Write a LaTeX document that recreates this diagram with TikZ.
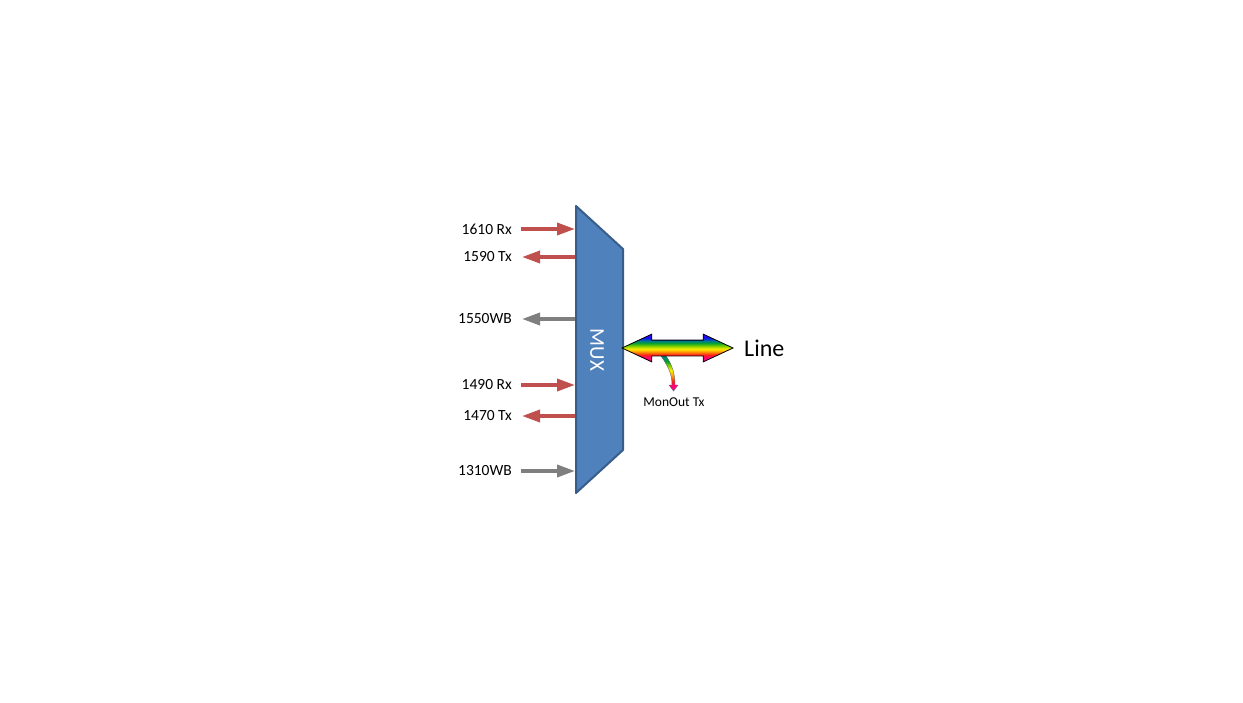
\documentclass[tikz,border=0pt]{standalone}
\usepackage{fontspec}
\setmainfont{Carlito}
\usetikzlibrary{arrows.meta}
\usetikzlibrary{shapes.arrows}
\definecolor{muxfill}{HTML}{4F81BD}
\definecolor{muxline}{HTML}{385D8A}
\definecolor{portred}{HTML}{C0504D}
\definecolor{portgray}{HTML}{7F7F7F}
\definecolor{rbmag}{HTML}{FF0080}
\definecolor{rbred}{HTML}{FF1A1A}
\definecolor{rbora}{HTML}{FF8C00}
\definecolor{rbyel}{HTML}{FFF000}
\definecolor{rblime}{HTML}{80D000}
\definecolor{rbgrn}{HTML}{00A030}
\definecolor{rbteal}{HTML}{007F8F}
\definecolor{rbblue}{HTML}{1010F0}
\definecolor{rbvio}{HTML}{5000FF}
%rainbow for the line arrow, 28bp high
\pgfdeclareverticalshading{rainbow}{120bp}{color(0bp)=(rbmag); color(4bp)=(rbmag); color(7bp)=(rbred); color(10bp)=(rbora); color(13bp)=(rbyel); color(16bp)=(rblime); color(19bp)=(rbgrn); color(21bp)=(rbteal); color(24bp)=(rbblue); color(28bp)=(rbvio)}
%rainbow for the monitor tap, 36bp high
\pgfdeclareverticalshading{monshade}{24bp}{color(0bp)=(rbmag); color(6bp)=(rbmag); color(10bp)=(rbred); color(15bp)=(rbora); color(21bp)=(rbyel); color(26bp)=(rblime); color(30bp)=(rbgrn); color(36bp)=(rbteal)}
\tikzset{port/.style={line width=3.5pt, draw=#1, -{Triangle[length=18pt,width=12pt]}},
%labels left of the mux
portlabel/.style={anchor=east, inner sep=0pt, font=\fontsize{15.5}{18}\selectfont},
muxbox/.style={fill=muxfill, draw=muxline, line width=2pt, line join=round},
rainbowfill/.style={path picture={\node[inner sep=0pt] at (path picture bounding box.center) {\pgfuseshading{#1}};}}}

\begin{document}
\begin{tikzpicture}[x=1pt,y=-1pt]
\useasboundingbox (0,0) rectangle (1243,702);
% mux
\draw[muxbox] (576,206) -- (623,249) -- (623,450) -- (576,493) -- cycle;
\node[rotate=-90, text=white, font=\fontsize{21}{25}\selectfont] (mux) at (597,350) {MUX};

%ports into the mux
\foreach \y/\txt/\col in {229/1610 Rx/portred, 385/1490 Rx/portred, 471/1310WB/portgray}
{
  \node[portlabel] (p\y) at (512,\y) {\txt};
  \coordinate (m\y) at (575,\y);
  \draw[port=\col, shorten <=9pt] (p\y) -- (m\y);
}
%ports out of the mux
\foreach \y/\txt/\col in {257/1590 Tx/portred, 319/1550WB/portgray, 416/1470 Tx/portred}
{
  \node[portlabel] (p\y) at (512,\y) {\txt};
  \coordinate (m\y) at (575,\y);
  \draw[port=\col, shorten >=10pt] (m\y) -- (p\y);
}

% monitor tap
\draw[rainbowfill=monshade, draw=black!60, line width=0.4pt] (661,356) .. controls (668,366) and (672,374) .. (672,385) -- (669,385) -- (673.5,391) -- (678,385) -- (675,385) .. controls (675,372) and (671,363) .. (666,356) -- cycle;
\node[font=\fontsize{13.5}{16}\selectfont, inner sep=0pt] (monout) at (674,402) {MonOut Tx};

% line
\node[double arrow, rainbowfill=rainbow, draw=black, line width=0.8pt, minimum height=111pt, minimum width=27pt, double arrow head extend=6pt, double arrow tip angle=50, inner xsep=0pt, inner ysep=7.5pt, outer sep=0pt] (feed) at (677.5,348) {};
\node[anchor=west, inner sep=0pt, font=\fontsize{24}{28}\selectfont] (line) at (744,348) {Line};

\end{tikzpicture}
\end{document}
